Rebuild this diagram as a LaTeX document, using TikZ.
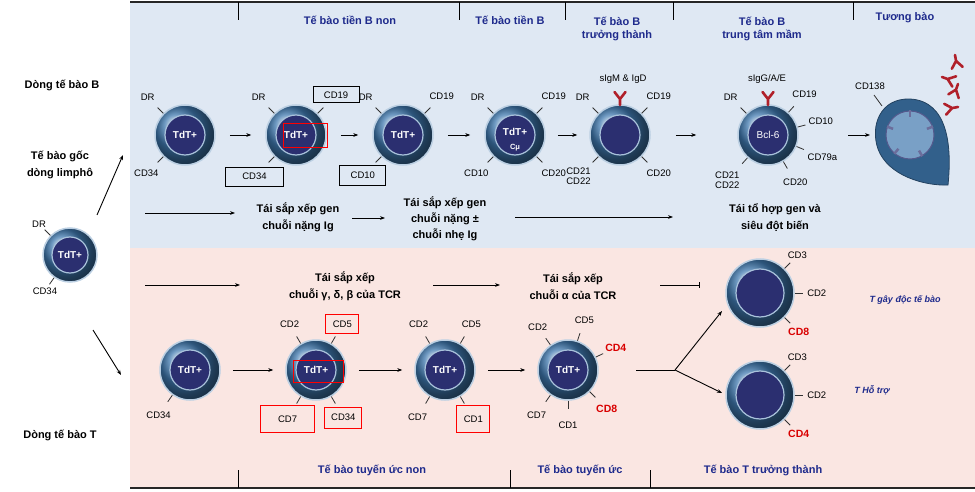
\documentclass[tikz,border=0pt]{standalone}
\usepackage{fontspec}
\setmainfont{Liberation Sans}
\usetikzlibrary{calc,arrows.meta}
\definecolor{bpanel}{HTML}{DFE8F3}
\definecolor{ppanel}{HTML}{FAE6E2}
\definecolor{cellb}{HTML}{3F78AE}
\definecolor{celld}{HTML}{2B2F70}
\definecolor{hdr}{HTML}{1E2A8C}
\definecolor{abred}{HTML}{B0202A}
\newcommand\mk[5][]{\draw[mkl] (#2.#3) -- ($(#2.#3)+(#3:8)$); \node[mk,#1] at ($(#2.#3)+(#3:#4)$) {#5};}
\newcommand\antib[3]{\begin{scope}[shift={(#1,#2)},rotate=#3]\draw[abred,line width=2.6pt,line cap=round] (0,0)--(0,6) (0,6)--(-5.5,13) (0,6)--(5.5,13);\end{scope}}
\begin{document}
\begin{tikzpicture}[x=1pt,y=1pt,
 cell/.style={circle,minimum size=60,inner sep=0,shading=ball,ball color=cellb,draw=cellb!35!white,line width=1.5pt},
 nuc/.style={circle,minimum size=40,inner sep=0,fill=celld,draw=cellb!45!white,line width=1.2pt,text=white,font=\bfseries\fontsize{10}{11}\selectfont},
 mcell/.style={cell,minimum size=68},
 mnuc/.style={nuc,minimum size=48},
 mk/.style={font=\fontsize{9.5}{10}\selectfont,inner sep=1pt,align=center},
 mkl/.style={line width=0.8pt,black!80},
 hdr/.style={font=\bfseries\fontsize{11}{13}\selectfont,text=hdr,align=center},
 lbl/.style={font=\bfseries\fontsize{11}{17}\selectfont,align=center},
 arr/.style={-{Stealth[length=5pt]},line width=0.9pt},
 rbox/.style={draw=red,line width=0.8pt},
 kbox/.style={draw=black,line width=0.8pt}]
\useasboundingbox (0,0) rectangle (975,491);
\fill[white] (0,0) rectangle (975,491);
\fill[bpanel] (130,243) rectangle (975,489);
\fill[ppanel] (130,3) rectangle (975,243);
\draw[line width=2pt,black!85] (130,489)--(975,489);
\draw[line width=1.5pt,black!85] (130,3)--(975,3);
\foreach \x in {238,459,565,673,853} \draw[line width=1pt] (\x,489)--(\x,471);
\foreach \x in {238,510,650} \draw[line width=1pt] (\x,3)--(\x,21);
% headers
\node[hdr] (h1) at (350,471) {Tế bào tiền B non};
\node[hdr] (h2) at (510,471) {Tế bào tiền B};
\node[hdr] (h3) at (617,462) {Tế bào B\\trưởng thành};
\node[hdr] (h4) at (762,462) {Tế bào B\\trung tâm mầm};
\node[hdr] (h5) at (905,473) {Tương bào};
\node[hdr] (h6) at (372,21) {Tế bào tuyến ức non};
\node[hdr] (h7) at (580,21) {Tế bào tuyến ức};
\node[hdr] (h8) at (763,21) {Tế bào T trưởng thành};
% left
\node[lbl] (lb) at (62,406) {Dòng tế bào B};
\node[lbl] (ls) at (60,326) {Tế bào gốc\\dòng limphô};
\node[lbl] (lt) at (60,56) {Dòng tế bào T};
\node[cell,minimum size=54] (s) at (70,236) {};
\node[nuc,minimum size=36] at (s) {TdT+};
\mk{s}{135}{16}{DR}
\mk{s}{235}{16}{CD34}
\coordinate (sa1) at (97,276); \coordinate (sa2) at (123,336);
\coordinate (ta1) at (93,161); \coordinate (ta2) at (121,116);
\draw[arr] (sa1)--(sa2);
\draw[arr] (ta1)--(ta2);
% B row
\foreach \n/\x in {b1/185,b2/296,b3/403,b4/515,b5/620,b6/768}
 \node[cell] (\n) at (\x,356) {};
\node[nuc] (n1) at (b1) {TdT+};
\node[nuc] (n2) at (b2) {TdT+};
\node[nuc] (n3) at (b3) {TdT+};
\node[nuc] (n4) at (b4) {};
\node[font=\bfseries\fontsize{10}{11}\selectfont,text=white] (n4t) at (515,359) {TdT+};
\node[font=\bfseries\fontsize{7.5}{8}\selectfont,text=white] (n4c) at (515,343) {Cμ};
\node[nuc] (n5) at (b5) {};
\node[nuc,font=\fontsize{10}{11}\selectfont] (n6) at (b6) {Bcl-6};
\node[rbox,minimum width=44,minimum height=24] (rb2) at (305,356) {};
\mk{b1}{135}{22}{DR}
\mk{b1}{225}{24}{CD34}
\mk{b2}{135}{22}{DR}
\mk[kbox,minimum width=46,minimum height=16]{b2}{45}{26}{CD19}
\mk[kbox,minimum width=58,minimum height=19]{b2}{225}{28}{CD34}
\mk{b3}{135}{22}{DR}
\mk{b3}{45}{24}{CD19}
\mk[kbox,minimum width=46,minimum height=20]{b3}{225}{26}{CD10}
\mk{b4}{135}{22}{DR}
\mk{b4}{45}{24}{CD19}
\mk{b4}{225}{24}{CD10}
\mk{b4}{315}{24}{CD20}
\mk{b5}{135}{22}{DR}
\mk{b5}{45}{24}{CD19}
\mk{b5}{225}{28}{CD21\\CD22}
\mk{b5}{315}{24}{CD20}
\mk{b6}{135}{22}{DR}
\mk{b6}{48}{24}{CD19}
\mk{b6}{15}{24}{CD10}
\mk{b6}{-22}{28}{CD79a}
\mk{b6}{300}{24}{CD20}
\mk{b6}{228}{30}{CD21\\CD22}
\antib{620}{386}{0}
\node[mk] (sig1) at (623,412) {sIgM \& IgD};
\antib{768}{386}{0}
\node[mk] (sig2) at (767,412) {sIgG/A/E};
% plasma cell
\draw[fill=cellb!80!black,draw=cellb!55!black,line width=0.8pt]
 (948,306) .. controls (952,345) and (948,390) .. (910,392)
 .. controls (880,393) and (870,365) .. (878,342)
 .. controls (888,315) and (925,305) .. cycle;
\node[circle,minimum size=48,fill=cellb!70!white,draw=celld!80,line width=1pt] (pc) at (910,356) {};
\foreach \a in {20,90,160,230,300} \draw[celld!70,line width=2.5pt] (pc)--++(\a:18);
\draw[mkl] (882,385)--(874,396);
\node[mk] (cd138) at (870,405) {CD138};
\antib{955}{436}{190}
\antib{942}{414}{250}
\antib{958}{407}{160}
\antib{958}{384}{100}
% B arrows
\draw[arr,shorten <=14,shorten >=14] (b1)--(b2);
\draw[arr,shorten <=14,shorten >=14] (b2)--(b3);
\draw[arr,shorten <=14,shorten >=14] (b3)--(b4);
\draw[arr,shorten <=12,shorten >=12] (b4)--(b5);
\draw[arr,shorten <=25,shorten >=41] (b5)--(b6);
\coordinate (p1) at (848,356); \coordinate (p2) at (870,356);
\draw[arr] (p1)--(p2);
\node[lbl] (tb1) at (298,274) {Tái sắp xếp gen\\chuỗi nặng Ig};
\node[lbl,font=\bfseries\fontsize{11}{16}\selectfont] (tb2) at (445,272) {Tái sắp xếp gen\\chuỗi nặng ±\\chuỗi nhẹ Ig};
\node[lbl] (tb3) at (775,273) {Tái tổ hợp gen và\\siêu đột biến};
\coordinate (ba1) at (145,278); \coordinate (ba2) at (235,278);
\coordinate (ba3) at (352,273); \coordinate (ba4) at (385,273);
\coordinate (ba5) at (515,274); \coordinate (ba6) at (673,274);
\draw[arr] (ba1)--(ba2); \draw[arr] (ba3)--(ba4); \draw[arr] (ba5)--(ba6);
% T row
\node[lbl] (tt1) at (345,205) {Tái sắp xếp\\chuỗi γ, δ, β của TCR};
\node[lbl] (tt2) at (573,205) {Tái sắp xếp\\chuỗi α của TCR};
\coordinate (tr1) at (145,206); \coordinate (tr2) at (240,206);
\coordinate (tr3) at (433,206); \coordinate (tr4) at (500,206);
\coordinate (tr5) at (660,206); \coordinate (tr6) at (700,206);
\draw[arr] (tr1)--(tr2); \draw[arr] (tr3)--(tr4);
\draw[line width=0.9pt,-{Bar[width=6pt]}] (tr5)--(tr6);
\foreach \n/\x in {t1/190,t2/316,t3/445,t4/568}
 \node[cell] (\n) at (\x,121) {};
\node[nuc] (tn1) at (t1) {TdT+};
\node[nuc] (tn2) at (t2) {TdT+};
\node[nuc] (tn3) at (t3) {TdT+};
\node[nuc] (tn4) at (t4) {TdT+};
\node[rbox,minimum width=50,minimum height=22] (rt2) at (318,120) {};
\mk{t1}{235}{24}{CD34}
\mk{t2}{120}{22}{CD2}
\mk[rbox,minimum width=33,minimum height=19]{t2}{60}{22}{CD5}
\mk[rbox,minimum width=54,minimum height=27]{t2}{240}{26}{CD7}
\mk[rbox,minimum width=37,minimum height=21]{t2}{300}{24}{CD34}
\mk{t3}{120}{22}{CD2}
\mk{t3}{60}{22}{CD5}
\mk{t3}{240}{24}{CD7}
\mk[rbox,minimum width=33,minimum height=27]{t3}{300}{26}{CD1}
\mk{t4}{125}{22}{CD2}
\mk{t4}{72}{22}{CD5}
\mk[text=red!85!black,font=\bfseries\fontsize{10.5}{11}\selectfont]{t4}{25}{22}{CD4}
\mk{t4}{235}{24}{CD7}
\mk{t4}{270}{24}{CD1}
\mk[text=red!85!black,font=\bfseries\fontsize{10.5}{11}\selectfont]{t4}{315}{24}{CD8}
\node[mcell] (m1) at (760,198) {};
\node[mnuc] (mn1) at (m1) {};
\node[mcell] (m2) at (760,96) {};
\node[mnuc] (mn2) at (m2) {};
\foreach \m in {m1,m2}{\mk{\m}{45}{18}{CD3}\mk{\m}{0}{22}{CD2}}
\mk[text=red!85!black,font=\bfseries\fontsize{10.5}{11}\selectfont]{m1}{-45}{20}{CD8}
\mk[text=red!85!black,font=\bfseries\fontsize{10.5}{11}\selectfont]{m2}{-45}{20}{CD4}
\node[font=\bfseries\itshape\fontsize{9}{10}\selectfont,text=hdr] (tg) at (905,191) {T gây độc tế bào};
\node[font=\bfseries\itshape\fontsize{9}{10}\selectfont,text=hdr] (th) at (872,101) {T Hỗ trợ};
\draw[arr,shorten <=12,shorten >=12] (t1)--(t2);
\draw[arr,shorten <=12,shorten >=12] (t2)--(t3);
\draw[arr,shorten <=12,shorten >=12] (t3)--(t4);
\coordinate (br0) at (636,121); \coordinate (br1) at (675,121);
\coordinate (br2) at (722,180); \coordinate (br3) at (722,98);
\draw[line width=0.9pt] (br0)--(br1);
\draw[arr] (br1)--(br2); \draw[arr] (br1)--(br3);
\end{tikzpicture}
\end{document}
